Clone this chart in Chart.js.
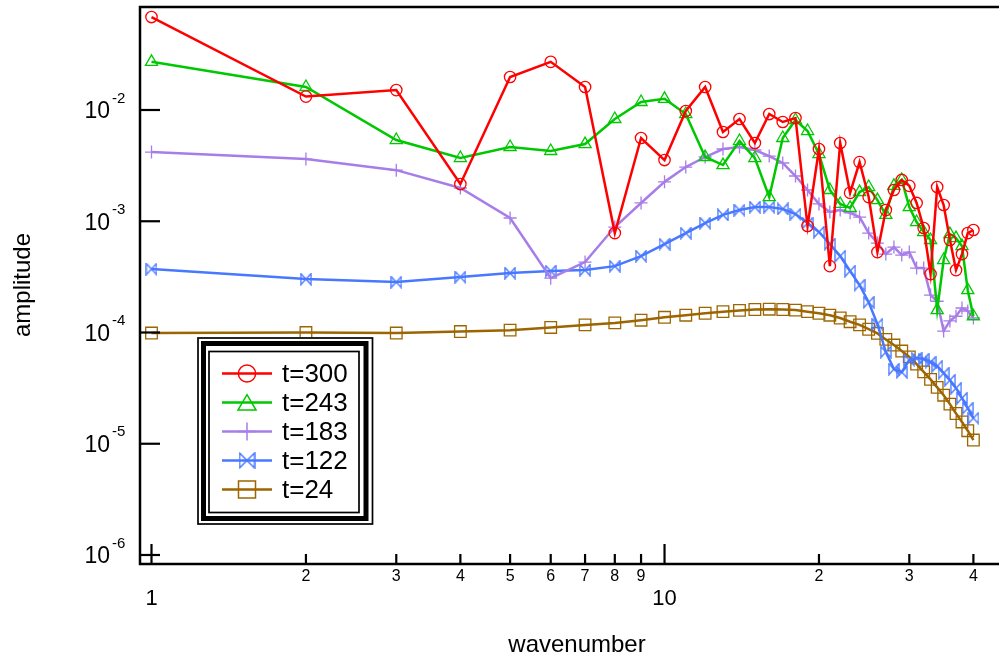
<!DOCTYPE html>
<html><head><meta charset="utf-8">
<script src="https://cdn.jsdelivr.net/npm/chart.js@4.4.1/dist/chart.umd.min.js"></script>
<style>html,body{margin:0;padding:0;background:#fff;overflow:hidden}canvas{display:block}</style>
</head><body>
<canvas id="c" width="999" height="662"></canvas>
<script>
// ---------- data ----------
const wavenumbers = [1,2,3,4,5,6,7,8,9,10,11,12,13,14,15,16,17,18,19,20,21,22,23,24,25,26,27,28,29,30,31,32,33,34,35,36,37,38,39,40];
const amp_t300 = [0.0685,0.0132,0.0151,0.00216,0.0198,0.0271,0.0161,0.000783,0.0056,0.00355,0.0098,0.0161,0.00634,0.0083,0.00505,0.0092,0.0078,0.00847,0.000906,0.00446,0.000395,0.00505,0.0018,0.0034,0.00165,0.000528,0.00126,0.00191,0.00235,0.00208,0.00146,0.000869,0.000335,0.00203,0.0014,0.000678,0.000364,0.000507,0.000783,0.000834];
const amp_t243 = [0.0271,0.0161,0.00537,0.0037,0.00465,0.00428,0.00494,0.0083,0.0118,0.0126,0.0092,0.00378,0.0032,0.00526,0.0037,0.00165,0.0056,0.00813,0.00647,0.00402,0.00191,0.00143,0.00132,0.00183,0.00203,0.00155,0.00114,0.00208,0.00235,0.00134,0.000984,0.0008,0.000678,0.000159,0.000448,0.000767,0.000706,0.000598,0.00024,0.00014];
const amp_t183 = [0.00419,0.00362,0.00288,0.00199,0.00107,0.000308,0.00043,0.000887,0.00146,0.00226,0.00307,0.00378,0.00446,0.00465,0.00437,0.00385,0.00334,0.00255,0.00191,0.00143,0.00121,0.00126,0.00119,0.00109,0.000783,0.000637,0.000507,0.000586,0.000497,0.000528,0.000379,0.000379,0.000217,0.000191,0.000103,0.000127,0.00014,0.000166,0.000156,0.000135];
const amp_t122 = [0.000372,0.000302,0.000284,0.000315,0.000342,0.000357,0.000364,0.000395,0.000486,0.000624,0.000783,0.000964,0.00114,0.00126,0.00134,0.00134,0.00129,0.00116,0.000964,0.0008,0.000624,0.000486,0.000357,0.000267,0.000187,0.000119,0.0000667,0.0000469,0.000044,0.0000565,0.0000589,0.0000577,0.0000542,0.0000499,0.0000431,0.0000373,0.0000316,0.0000257,0.0000209,0.000017];
const amp_t24 = [0.0000989,0.0000999,0.0000989,0.000102,0.000105,0.000111,0.000117,0.000122,0.000129,0.000137,0.000143,0.000149,0.000154,0.000158,0.000161,0.000162,0.000161,0.000159,0.000154,0.000149,0.000143,0.000135,0.000125,0.000117,0.000107,0.0000982,0.0000867,0.0000771,0.0000681,0.0000604,0.000052,0.0000443,0.0000379,0.0000321,0.0000273,0.0000227,0.0000187,0.0000157,0.0000131,0.0000108];
const seriesLabels = ['t=300','t=243','t=183','t=122','t=24'];
const yTickExponents = [-2,-3,-4,-5,-6];
const xMajorTicks = [1,10];
const xMinorTicks = [2,3,4,5,6,7,8,9,20,30,40];
const xTitle = 'wavenumber';
const yTitle = 'amplitude';

// ---------- styles ----------
const FONT = '"Liberation Sans", Arial, Helvetica, sans-serif';
const colors = ['#ff0000','#00c800','#a77de8','#4878ff','#9c6500'];
const markers = ['circle','triangle','cross','bowtie','rect'];

function bowtieCanvas(w,h,color,lw){
  const c=document.createElement('canvas'); c.width=w; c.height=h;
  const g=c.getContext('2d'); g.strokeStyle=color; g.lineWidth=lw; g.lineJoin='miter';
  const p=lw/2+0.3;
  g.beginPath(); g.moveTo(p,p); g.lineTo(w-p,h-p); g.lineTo(w-p,p); g.lineTo(p,h-p); g.closePath(); g.stroke();
  return c;
}
const bowtieData = bowtieCanvas(12,13,colors[3],1.3);
const bowtieLegend = bowtieCanvas(17,17,colors[3],1.5);

const seriesValues = [amp_t300, amp_t243, amp_t183, amp_t122, amp_t24];
const pointRadii = [5.7, 7, 6.5, 6, 8.2];

const datasets = seriesValues.map((vals,i)=>({
  label: seriesLabels[i],
  data: wavenumbers.map((k,j)=>({x:k, y:vals[j]})),
  borderColor: colors[i],
  borderWidth: 2.5,
  tension: 0,
  fill: false,
  pointStyle: markers[i]==='bowtie' ? bowtieData : markers[i],
  pointRadius: pointRadii[i],
  pointBorderWidth: 1.3,
  pointBorderColor: colors[i],
  pointBackgroundColor: 'rgba(0,0,0,0)',
  pointHoverRadius: pointRadii[i]
}));

function drawLegendMarker(ctx, kind, x, y, color){
  ctx.save();
  ctx.strokeStyle=color; ctx.lineWidth=1.5;
  ctx.beginPath();
  if(kind==='circle'){ ctx.arc(x,y,8.6,0,Math.PI*2); ctx.stroke(); }
  else if(kind==='triangle'){ const r=9.5; ctx.moveTo(x,y-7.8); ctx.lineTo(x+r*0.95,y+7.6); ctx.lineTo(x-r*0.95,y+7.6); ctx.closePath(); ctx.stroke(); }
  else if(kind==='cross'){ ctx.moveTo(x,y-9); ctx.lineTo(x,y+9); ctx.moveTo(x-9,y); ctx.lineTo(x+9,y); ctx.stroke(); }
  else if(kind==='bowtie'){ ctx.drawImage(bowtieLegend, x-bowtieLegend.width/2, y-bowtieLegend.height/2); }
  else if(kind==='rect'){ ctx.strokeRect(x-8.5,y-8.5,17,17); }
  ctx.restore();
}

const decorPlugin = {
  id:'decor',
  afterDatasetsDraw(chart){
    const ctx=chart.ctx, a=chart.chartArea, xs=chart.scales.x, ys=chart.scales.y;
    ctx.save();
    ctx.strokeStyle='#000'; ctx.fillStyle='#000';
    // frame (left, top, bottom)
    ctx.lineWidth=2.5;
    ctx.beginPath();
    ctx.moveTo(a.right,a.top); ctx.lineTo(a.left,a.top); ctx.lineTo(a.left,a.bottom); ctx.lineTo(a.right,a.bottom);
    ctx.stroke();
    // y ticks + labels
    ctx.lineWidth=2.2;
    yTickExponents.forEach(e=>{
      const y=ys.getPixelForValue(Math.pow(10,e));
      ctx.beginPath(); ctx.moveTo(a.left,y); ctx.lineTo(a.left+20,y); ctx.stroke();
      ctx.font='23px '+FONT; ctx.textAlign='right'; ctx.textBaseline='middle';
      ctx.fillText('10',110,y+2);
      ctx.font='15px '+FONT; ctx.textAlign='left';
      ctx.fillText(String(e),112,y-11.5);
    });
    // x ticks + labels
    xMajorTicks.forEach(v=>{
      const x=xs.getPixelForValue(v);
      ctx.beginPath(); ctx.moveTo(x,a.bottom); ctx.lineTo(x,a.bottom-20); ctx.stroke();
      ctx.font='22px '+FONT; ctx.textAlign='center'; ctx.textBaseline='middle';
      ctx.fillText(String(v),x,599);
    });
    xMinorTicks.forEach(v=>{
      const x=xs.getPixelForValue(v);
      ctx.beginPath(); ctx.moveTo(x,a.bottom); ctx.lineTo(x,a.bottom-10); ctx.stroke();
      const lab = v>=10 ? String(v/10) : String(v);
      ctx.font='16px '+FONT; ctx.textAlign='center'; ctx.textBaseline='middle';
      ctx.fillText(lab,x,577);
    });
    // axis titles
    ctx.font='24px '+FONT; ctx.textAlign='center'; ctx.textBaseline='middle';
    ctx.fillText(xTitle,577,645);
    ctx.save(); ctx.translate(23,285); ctx.rotate(-Math.PI/2); ctx.fillText(yTitle,0,0); ctx.restore();
    // legend box
    ctx.fillStyle='#fff'; ctx.fillRect(197,337,176,188);
    ctx.strokeStyle='#000';
    ctx.lineWidth=1.7; ctx.strokeRect(198,338,174.5,186);
    ctx.lineWidth=5; ctx.strokeRect(203.5,343.5,162.5,175);
    ctx.lineWidth=1.7; ctx.strokeRect(209,351.5,150,161);
    seriesLabels.forEach((lab,i)=>{
      const y=373.5+i*29;
      ctx.strokeStyle=colors[i]; ctx.lineWidth=2.5;
      ctx.beginPath(); ctx.moveTo(222,y); ctx.lineTo(272,y); ctx.stroke();
      drawLegendMarker(ctx, markers[i], 247, y, colors[i]);
      ctx.fillStyle='#000'; ctx.font='26px '+FONT; ctx.textAlign='left'; ctx.textBaseline='middle';
      ctx.fillText(lab,282,y+1);
    });
    ctx.restore();
  }
};

new Chart(document.getElementById('c'), {
  type:'line',
  data:{ datasets },
  options:{
    responsive:false,
    animation:false,
    devicePixelRatio:1,
    layout:{ autoPadding:false, padding:{ left:140, top:7, right:0, bottom:98 } },
    scales:{
      x:{ type:'logarithmic', display:false, min:0.9497, max:44.87, bounds:'data' },
      y:{ type:'logarithmic', display:false, min:8.299e-7, max:0.08431, bounds:'data' }
    },
    plugins:{ legend:{display:false}, tooltip:{enabled:false} },
    elements:{ line:{ borderCapStyle:'butt', borderJoinStyle:'miter' } }
  },
  plugins:[decorPlugin]
});
</script>
</body></html>
